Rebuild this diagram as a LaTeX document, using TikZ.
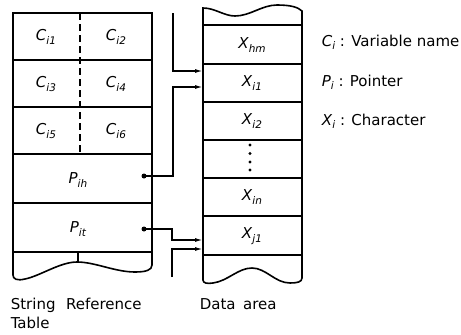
\documentclass[tikz,border=0pt]{standalone}
\usepackage{fontspec}
\setmainfont{DejaVu Sans}
\usetikzlibrary{arrows.meta}
\newcommand\sublab[2]{\textit{#1}\raisebox{-3.5pt}{\fontsize{10.5}{11}\selectfont\textit{#2}}}
\begin{document}
\begin{tikzpicture}[x=1pt,y=-1pt,line width=1.6pt,
  txt/.style={inner sep=0pt,font=\fontsize{15}{18}\selectfont},
  cell/.style={inner sep=0pt,font=\fontsize{15}{17}\selectfont},
  dotmark/.style={circle,fill=black,inner sep=0pt,minimum size=5pt},
  arr/.style={-{Latex[length=8pt,width=4pt]},line width=1.4pt},
  divider/.style={dash pattern=on 7pt off 4pt}]
\useasboundingbox (0,0) rectangle (461,335);
% ---- String reference table ----
\draw (13,13) -- (152,13) -- (152,265)
  .. controls (152,270) and (146,272) .. (135,272)
  .. controls (115,272) and (95,262) .. (77,262)
  .. controls (60,262) and (40,276) .. (25,279)
  .. controls (17,281) and (13,279) .. (13,275) -- cycle;
\foreach \yy in {60,107,154,203,252} \draw (13,\yy) -- (152,\yy);
\draw[divider] (80,13) -- (80,154);
\draw (78,252) -- (78,262);
\node[cell] (c1) at (46,37) {\sublab{C}{i1}};
\node[cell] (c2) at (116,37) {\sublab{C}{i2}};
\node[cell] (c3) at (46,84) {\sublab{C}{i3}};
\node[cell] (c4) at (116,84) {\sublab{C}{i4}};
\node[cell] (c5) at (46,131) {\sublab{C}{i5}};
\node[cell] (c6) at (116,131) {\sublab{C}{i6}};
\node[cell] (pih) at (78,180) {\sublab{P}{ih}};
\node[cell] (pit) at (78,229) {\sublab{P}{it}};
% ---- Data area ----
\draw (203,8) .. controls (215,8) and (224,16) .. (235,16)
  .. controls (250,16) and (262,5) .. (277,5)
  .. controls (290,5) and (298,7) .. (302,11)
  -- (302,278)
  .. controls (302,282) and (297,283) .. (290,283)
  .. controls (275,283) and (266,268) .. (252,268)
  .. controls (238,268) and (228,281) .. (213,283)
  .. controls (207,284) and (203,283) .. (203,280) -- cycle;
\foreach \yy in {25,64,102,140,178,216,255} \draw (203,\yy) -- (302,\yy);
\node[cell] (xhm) at (252,45) {\sublab{X}{hm}};
\node[cell] (xi1) at (252,83) {\sublab{X}{i1}};
\node[cell] (xi2) at (252,121) {\sublab{X}{i2}};
\foreach \yy in {145,153.5,162,170} \fill (250,\yy) circle (1.7pt);
\node[cell] (xin) at (252,197) {\sublab{X}{in}};
\node[cell] (xj1) at (252,236) {\sublab{X}{j1}};
% ---- connectors ----
\node[dotmark] (pihdot) at (144,176) {};
\node[dotmark] (pitdot) at (144,229) {};
\coordinate (topfree) at (173,13);
\coordinate (botfree) at (172,277);
\coordinate (in0) at (203,71);
\coordinate (in1) at (203,87);
\coordinate (in2) at (203,240);
\coordinate (in3) at (203,249);
\draw[arr] (topfree) |- (in0);
\draw[arr] (pihdot.center) -- (173,176) |- (in1);
\draw[arr] (pitdot.center) -- (172,229) |- (in2);
\draw[arr] (botfree) |- (in3);
% ---- captions ----
\node[txt,anchor=base west] (cap1) at (10,309) {String\hspace{0.7em}Reference};
\node[txt,anchor=base west] (cap2) at (10,328) {Table};
\node[txt,anchor=base west] (cap3) at (199,309) {Data\hspace{0.5em}area};
% ---- legend ----
\node[txt,anchor=base west] (lg1) at (321,46) {\sublab{C}{i} : Variable name};
\node[txt,anchor=base west] (lg2) at (321,86) {\sublab{P}{i} : Pointer};
\node[txt,anchor=base west] (lg3) at (321,125) {\sublab{X}{i} : Character};
\end{tikzpicture}
\end{document}
